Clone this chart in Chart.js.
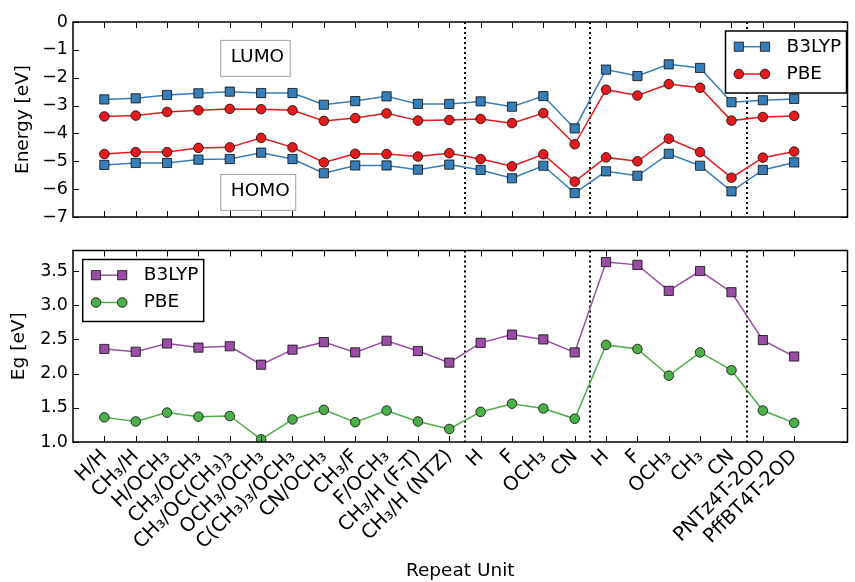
<!doctype html>
<html lang="en">
<head>
<meta charset="utf-8">
<title>Repeat unit energies</title>
<style>
  * { margin: 0; padding: 0; }
  body { background: #fff; width: 855px; height: 582px; position: relative; overflow: hidden; }
  canvas { position: absolute; left: 0; }
  #energyChart { top: 0; }
  #gapChart { top: 235px; }
</style>
</head>
<body>
<canvas id="energyChart" width="855" height="235"></canvas>
<canvas id="gapChart" width="855" height="347"></canvas>
<script src="https://cdn.jsdelivr.net/npm/chart.js/dist/chart.umd.min.js"></script>
<script>
// data
const unitLabels = ['H/H', 'CH₃/H', 'H/OCH₃', 'CH₃/OCH₃', 'CH₃/OC(CH₃)₃', 'OCH₃/OCH₃',
  'C(CH₃)₃/OCH₃', 'CN/OCH₃', 'CH₃/F', 'F/OCH₃', 'CH₃/H (F-T)', 'CH₃/H (NTZ)',
  'H', 'F', 'OCH₃', 'CN', 'H', 'F', 'OCH₃', 'CH₃', 'CN', 'PNTz4T-2OD', 'PffBT4T-2OD'];

const lumoB3lyp = [-2.78, -2.74, -2.62, -2.56, -2.50, -2.55, -2.55, -2.97, -2.84, -2.67, -2.94, -2.94,
  -2.85, -3.04, -2.66, -3.82, -1.71, -1.94, -1.52, -1.65, -2.88, -2.81, -2.76];
const lumoPbe = [-3.39, -3.36, -3.23, -3.17, -3.12, -3.13, -3.17, -3.55, -3.45, -3.28, -3.54, -3.52,
  -3.48, -3.63, -3.27, -4.39, -2.43, -2.64, -2.23, -2.36, -3.54, -3.41, -3.37];
const homoPbe = [-4.74, -4.67, -4.67, -4.52, -4.50, -4.16, -4.50, -5.04, -4.73, -4.74, -4.83, -4.71,
  -4.92, -5.18, -4.75, -5.73, -4.86, -5.00, -4.19, -4.67, -5.59, -4.87, -4.65];
const homoB3lyp = [-5.13, -5.06, -5.06, -4.94, -4.92, -4.69, -4.92, -5.43, -5.15, -5.15, -5.30, -5.12,
  -5.31, -5.61, -5.16, -6.14, -5.36, -5.52, -4.73, -5.16, -6.08, -5.31, -5.04];

const gapB3lyp = [2.36, 2.32, 2.44, 2.38, 2.40, 2.13, 2.35, 2.46, 2.31, 2.48, 2.33, 2.16,
  2.45, 2.57, 2.50, 2.31, 3.63, 3.59, 3.21, 3.50, 3.19, 2.49, 2.25];
const gapPbe = [1.36, 1.30, 1.43, 1.37, 1.38, 1.04, 1.33, 1.47, 1.29, 1.46, 1.30, 1.19,
  1.44, 1.56, 1.49, 1.34, 2.42, 2.36, 1.97, 2.31, 2.05, 1.46, 1.28];

const energyTicks = [-7, -6, -5, -4, -3, -2, -1, 0];
const gapTicks = [1.0, 1.5, 2.0, 2.5, 3.0, 3.5];
const separators = [11.5, 15.5, 20.5];

const colors = { b3lyp: '#377eb8', pbe: '#e41a1c', gapB3lyp: '#984ea3', gapPbe: '#4daf4a' };
const FONT = 'DejaVu Sans';
Chart.defaults.font.family = FONT;
Chart.defaults.color = '#000';

const toPoints = arr => arr.map((v, i) => ({ x: i, y: v }));
const minus = s => String(s).replace('-', '\u2212');

function series(label, values, color, style) {
  return {
    label, data: toPoints(values),
    borderColor: color, backgroundColor: color, borderWidth: 1.5,
    pointStyle: style, pointRadius: style === 'rect' ? 6.5 : 4.8,
    pointBorderColor: 'rgba(0,0,0,0.75)', pointBorderWidth: 1,
    pointBackgroundColor: color, clip: 0
  };
}

// frame, inward ticks, dotted separators, boxed notes and legend
const decor = {
  id: 'decor',
  beforeDatasetsDraw(chart, args, o) {
    const { ctx, chartArea: a, scales: { x, y } } = chart;
    ctx.save();
    ctx.strokeStyle = '#000';
    ctx.lineWidth = 2;
    ctx.setLineDash([2, 3]);
    separators.forEach(v => {
      const px = Math.round(x.getPixelForValue(v));
      ctx.beginPath(); ctx.moveTo(px, a.top); ctx.lineTo(px, a.bottom); ctx.stroke();
    });
    ctx.setLineDash([]);
    (o.notes || []).forEach(n => {
      ctx.font = '18.5px "' + FONT + '"';
      ctx.textBaseline = 'middle';
      const tx = x.getPixelForValue(n.x), cy = y.getPixelForValue(n.y);
      const w = ctx.measureText(n.text).width;
      ctx.fillStyle = '#fff';
      ctx.strokeStyle = '#a0a0a0';
      ctx.lineWidth = 1;
      ctx.fillRect(tx - 10, cy - 17, w + 16, 36);
      ctx.strokeRect(tx - 10, cy - 17, w + 16, 36);
      ctx.fillStyle = '#000';
      ctx.fillText(n.text, tx, cy);
    });
    ctx.restore();
  },
  afterDatasetsDraw(chart, args, o) {
    const { ctx, chartArea: a, scales: { x, y } } = chart;
    ctx.save();
    ctx.strokeStyle = '#000';
    ctx.lineWidth = 1;
    const tl = 6;
    ctx.beginPath();
    unitLabels.forEach((_, i) => {
      const px = Math.round(x.getPixelForValue(i)) + 0.5;
      ctx.moveTo(px, a.top); ctx.lineTo(px, a.top + tl);
      ctx.moveTo(px, a.bottom); ctx.lineTo(px, a.bottom - tl);
    });
    o.yTicks.forEach(v => {
      const py = Math.round(y.getPixelForValue(v)) + 0.5;
      ctx.moveTo(a.left, py); ctx.lineTo(a.left + tl, py);
      ctx.moveTo(a.right, py); ctx.lineTo(a.right - tl, py);
    });
    ctx.stroke();
    ctx.lineWidth = 1.5;
    ctx.strokeRect(a.left, a.top, a.right - a.left, a.bottom - a.top);

    // legend
    const lg = o.legend;
    const bw = 121, bh = 62;
    const bx = lg.corner === 'right' ? a.right - 1 - bw : a.left + 9.7;
    const by = a.top + 9;
    ctx.fillStyle = '#fff';
    ctx.fillRect(bx, by, bw, bh);
    ctx.strokeRect(bx, by, bw, bh);
    const seen = [];
    chart.data.datasets.forEach(ds => {
      if (seen.find(d => d.label === ds.label)) return;
      seen.push(ds);
    });
    seen.forEach((ds, k) => {
      const ey = by + 15.7 + k * 27.3;
      const x1 = bx + 13.3, x2 = bx + 39.5;
      ctx.strokeStyle = ds.borderColor;
      ctx.lineWidth = ds.borderWidth;
      ctx.beginPath(); ctx.moveTo(x1, ey); ctx.lineTo(x2, ey); ctx.stroke();
      ctx.fillStyle = ds.pointBackgroundColor;
      ctx.strokeStyle = ds.pointBorderColor;
      ctx.lineWidth = ds.pointBorderWidth;
      [x1, x2].forEach(px => Chart.helpers.drawPoint(ctx,
        { pointStyle: ds.pointStyle, radius: ds.pointRadius, rotation: 0, borderWidth: 1 }, px, ey));
      ctx.fillStyle = '#000';
      ctx.font = '18.5px "' + FONT + '"';
      ctx.textBaseline = 'middle';
      ctx.fillText(ds.label, bx + 61, ey);
    });
    ctx.restore();
  }
};

const xRange = { type: 'linear', min: -1, max: 23.7 };

// top panel: orbital energies
new Chart(document.getElementById('energyChart'), {
  type: 'line',
  data: {
    datasets: [
      series('B3LYP', lumoB3lyp, colors.b3lyp, 'rect'),
      series('PBE', lumoPbe, colors.pbe, 'circle'),
      series('PBE', homoPbe, colors.pbe, 'circle'),
      series('B3LYP', homoB3lyp, colors.b3lyp, 'rect')
    ]
  },
  options: {
    responsive: false, animation: false, events: [],
    layout: { padding: { top: 22, right: 2, bottom: 18, left: 0 } },
    scales: {
      x: { ...xRange, display: false },
      y: {
        min: -7, max: 0,
        afterFit(s) { s.width = 73; },
        afterBuildTicks(s) { s.ticks = energyTicks.map(v => ({ value: v })); },
        grid: { display: false, drawTicks: false },
        border: { display: false },
        ticks: { padding: 5, font: { size: 17.5 }, callback: v => minus(v) },
        title: { display: true, text: 'Energy [eV]', font: { size: 18.5 }, padding: { top: 12.4, bottom: 0 } }
      }
    },
    plugins: {
      legend: { display: false }, tooltip: { enabled: false },
      decor: {
        yTicks: energyTicks,
        legend: { corner: 'right' },
        notes: [{ text: 'LUMO', x: 4.03, y: -1.27 }, { text: 'HOMO', x: 4.03, y: -6.08 }]
      }
    }
  },
  plugins: [decor]
});

// bottom panel: band gaps
new Chart(document.getElementById('gapChart'), {
  type: 'line',
  data: {
    datasets: [
      series('B3LYP', gapB3lyp, colors.gapB3lyp, 'rect'),
      series('PBE', gapPbe, colors.gapPbe, 'circle')
    ]
  },
  options: {
    responsive: false, animation: false, events: [],
    layout: { padding: { top: 11, right: 2, bottom: 0, left: 0 } },
    scales: {
      x: {
        ...xRange,
        afterBuildTicks(s) { s.ticks = unitLabels.map((_, i) => ({ value: i })); },
        afterFit(s) { s.height = 140; },
        grid: { display: false, drawTicks: false },
        border: { display: false },
        ticks: { autoSkip: false, minRotation: 45, maxRotation: 45, padding: 3, font: { size: 19.5 },
          callback: v => unitLabels[v] },
        title: { display: true, text: 'Repeat Unit', font: { size: 18.5 }, padding: { top: 0, bottom: 0 } }
      },
      y: {
        min: 1.0, max: 3.8,
        afterFit(s) { s.width = 73; },
        afterBuildTicks(s) { s.ticks = gapTicks.map(v => ({ value: v })); },
        grid: { display: false, drawTicks: false },
        border: { display: false },
        ticks: { padding: 5, font: { size: 17.5 }, callback: v => v.toFixed(1) },
        title: { display: true, text: 'Eg [eV]', font: { size: 18.5 }, padding: { top: 8.4, bottom: 0 } }
      }
    },
    plugins: {
      legend: { display: false }, tooltip: { enabled: false },
      decor: { yTicks: gapTicks, legend: { corner: 'left' } }
    }
  },
  plugins: [decor]
});
</script>
</body>
</html>
